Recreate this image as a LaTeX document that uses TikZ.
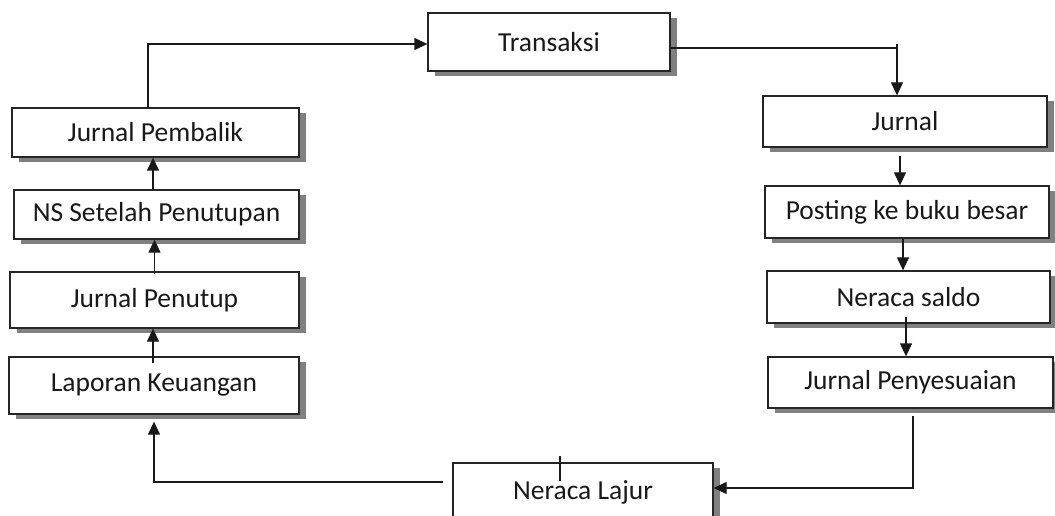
\documentclass[tikz,border=0pt]{standalone}
\usepackage{fontspec}
\setmainfont{Carlito}
\usetikzlibrary{arrows.meta,shadows,calc}
\begin{document}
\begin{tikzpicture}[x=1pt,y=-1pt,
  box/.style={draw=black!85, line width=1.3pt, fill=white, inner sep=0pt,
    font=\fontsize{27.5}{32}\selectfont, text=black!90,
    drop shadow={shadow xshift=7pt,shadow yshift=-5pt,fill=black!50,opacity=1}},
  conn/.style={draw=black!90,line width=1.3pt},
  arr/.style={conn,-{Triangle[length=13pt,width=12pt]}}]
\useasboundingbox (0,0) rectangle (1055,516);
% boxes
\node[box,minimum width=242pt,minimum height=58pt] (T) at (549,42) {Transaksi};
\node[box,minimum width=284pt,minimum height=51pt] (J) at (905,121.5) {Jurnal};
\node[box,minimum width=284pt,minimum height=52pt] (P) at (907,212) {Posting ke buku besar};
\node[box,minimum width=283pt,minimum height=52pt] (NS) at (908.5,297) {Neraca saldo};
\node[box,minimum width=285pt,minimum height=51pt] (JP) at (910.5,382.5) {Jurnal Penyesuaian};
\node[box,minimum width=260pt,minimum height=58pt] (NL) at (583,492) {Neraca Lajur};
\node[box,minimum width=290pt,minimum height=57pt] (LK) at (154,385.5) {Laporan Keuangan};
\node[box,minimum width=289pt,minimum height=56pt] (JPen) at (154.5,300) {Jurnal Penutup};
\node[box,minimum width=285pt,minimum height=49pt] (NSP) at (156.5,214.5) {NS Setelah Penutupan};
\node[box,minimum width=287pt,minimum height=49pt] (JPb) at (155.5,132.5) {Jurnal Pembalik};
% connectors
\draw[arr] ($(JPb.north)+(-7.5,0)$) |- ($(T.west)+(0,2)$);
\draw[arr] ($(T.east)+(0,6)$) -| ($(J.north)+(-8,0)$);
\draw[conn] ($(T.east -| J.north)+(-8,2)$) -- ++(0,4);
\coordinate (a1) at ($(J.south)+(-5,8)$);
\draw[arr] (a1) -- (a1 |- P.north);
\coordinate (a2) at ($(P.south)+(-4,0)$);
\draw[arr] (a2) -- (a2 |- NS.north);
\coordinate (a3) at ($(NS.south)+(-2.5,-7)$);
\draw[arr] (a3) -- (a3 |- JP.north);
\coordinate (a4) at ($(JP.south)+(2.5,7)$);
\draw[arr] (a4) |- ($(NL.east)+(0,-4)$);
\coordinate (a5) at ($(NL.west)+(-9,-10)$);
\draw[arr] (a5) -| ($(LK.south)+(0,7)$);
\draw[conn] ($(NL.north)+(-23,-6)$) -- ++(0,25);
\coordinate (a6) at ($(LK.north)+(-1,7)$);
\draw[arr] (a6) -- (a6 |- JPen.south);
\coordinate (a7) at ($(JPen.north)+(0,3)$);
\draw[arr] (a7) -- (a7 |- NSP.south);
\coordinate (a8) at ($(NSP.north)+(-3.5,0)$);
\draw[arr] (a8) -- (a8 |- JPb.south);
\end{tikzpicture}
\end{document}
